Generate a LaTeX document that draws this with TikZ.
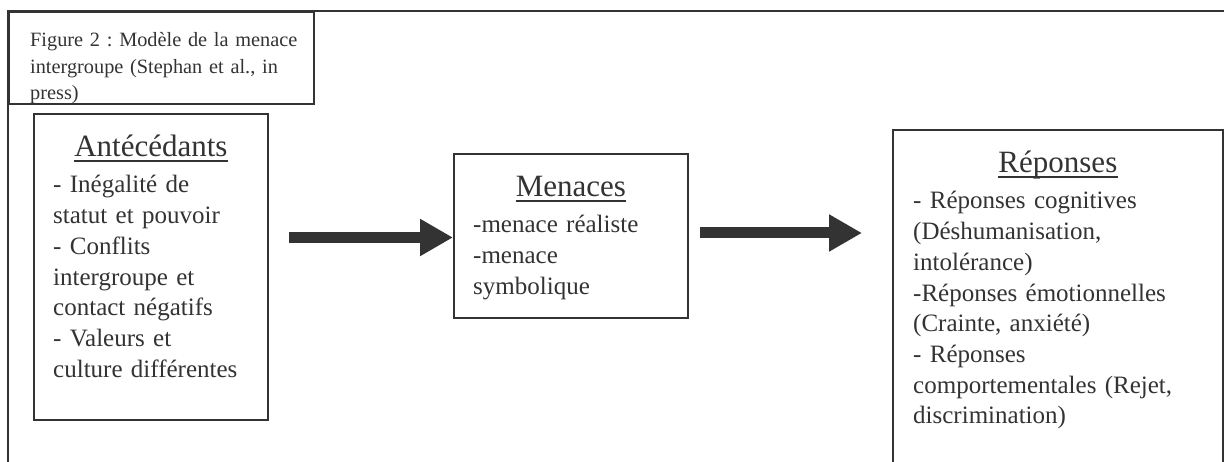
\documentclass[tikz,border=0pt]{standalone}
\usepackage{fontspec}
\setmainfont{Liberation Serif}
\usetikzlibrary{calc,arrows.meta}
\definecolor{encre}{HTML}{333333}
\frenchspacing

\begin{document}
\begin{tikzpicture}[x=1pt,y=-1pt]
        \tikzset{boite/.style={draw=encre, line width=1.8pt, rectangle,
            inner sep=0pt, anchor=north west},
          titre/.style={font=\fontsize{31}{36}\selectfont, text=encre,
            inner sep=0pt, anchor=base},
          corps/.style={font=\fontsize{25}{30.7}\selectfont, text=encre,
            inner sep=0pt, anchor=base west, text width=300pt, align=left},
          souligne/.style={draw=encre, line width=1.6pt},
          fleche/.style={draw=encre, line width=11pt,
            -{Triangle[length=33pt,width=35pt]}}}
        \useasboundingbox (0,0) rectangle (1224,462);
        \clip (0,0) rectangle (1224,462);
        \fill[white] (0,0) rectangle (1224,462);
        \coordinate (cadreBas) at (8,462);
        \coordinate (cadreCoin) at (8,11);
        \coordinate (cadreDroit) at (1226,11);
        \draw[encre, line width=2.4pt] (cadreBas) -- (cadreCoin) -- (cadreDroit);
        \node[boite, minimum width=305pt, minimum height=92pt] (legende) at (8,11) {};
        \node[corps, font=\fontsize{20.3}{26.5}\selectfont]
          (legendeTexte) at ($(legende.north west)+(22,36)$)
          {Figure 2 : Modèle de la menace\\intergroupe (Stephan et al., in\\press)};
        \node[boite, minimum width=234pt, minimum height=306pt] (ante) at (33,113) {};
        \node[titre] (anteTitre) at ($(ante.north)+(0,44)$) {Antécédants};
        \node[corps] (anteTexte) at ($(ante.north west)+(20,80)$)
          {- Inégalité de\\statut et pouvoir\\- Conflits\\intergroupe et\\contact négatifs\\- Valeurs et\\culture différentes};
        \node[boite, minimum width=234pt, minimum height=164pt] (menaces) at (453,153) {};
        \node[titre] (menacesTitre) at ($(menaces.north)+(0,44)$) {Menaces};
        \node[corps] (menacesTexte) at ($(menaces.north west)+(20,80)$)
          {-menace réaliste\\-menace\\symbolique};
        \node[boite, minimum width=330pt, minimum height=360pt] (reponses) at (892,129) {};
        \node[titre] (reponsesTitre) at ($(reponses.north)+(0,44)$) {Réponses};
        \node[corps] (reponsesTexte) at ($(reponses.north west)+(21,80)$)
          {- Réponses cognitives\\(Déshumanisation,\\intolérance)\\-Réponses émotionnelles\\(Crainte, anxiété)\\- Réponses\\comportementales (Rejet,\\discrimination)};
        \draw[souligne] ($(anteTitre.base west)+(0,4)$) -- ($(anteTitre.base east)+(0,4)$);
        \draw[souligne] ($(menacesTitre.base west)+(0,4)$) -- ($(menacesTitre.base east)+(0,4)$);
        \draw[souligne] ($(reponsesTitre.base west)+(0,4)$) -- ($(reponsesTitre.base east)+(0,4)$);
        \coordinate (depart1) at (289,237.5);
        \coordinate (arrivee1) at (menaces.west |- depart1);
        \coordinate (depart2) at (700,233);
        \coordinate (arrivee2) at (862,233);
        \draw[fleche] (depart1) -- (arrivee1);
        \draw[fleche] (depart2) -- (arrivee2);
    \end{tikzpicture}
\end{document}
